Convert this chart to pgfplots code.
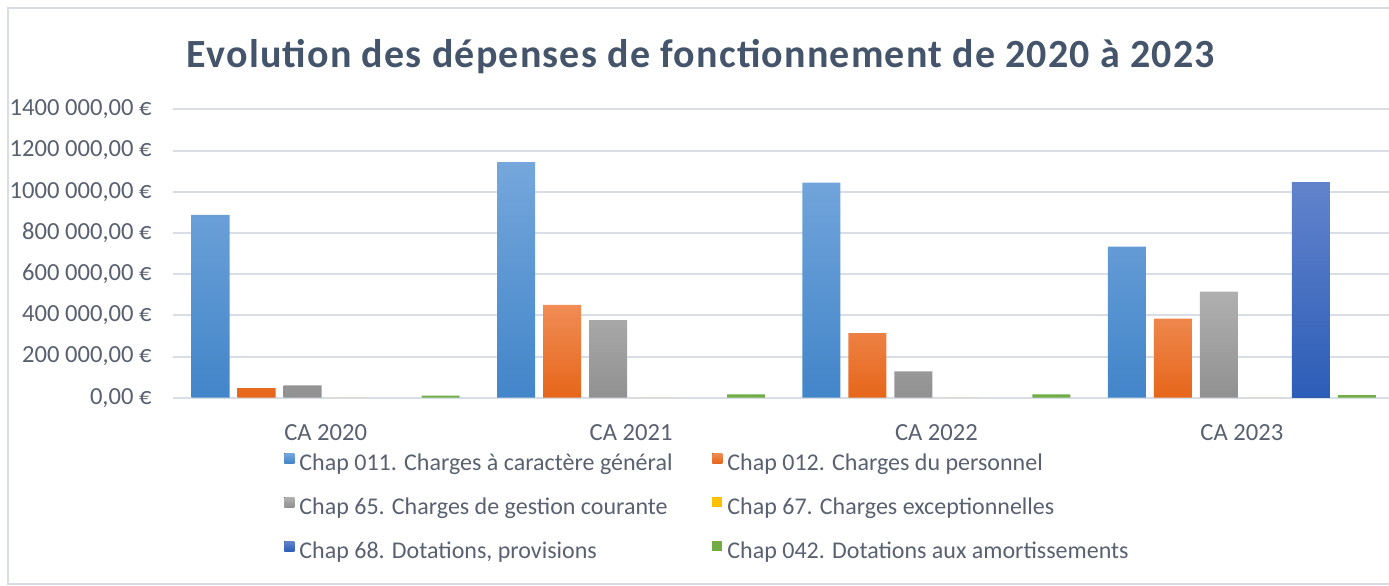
\documentclass[border=0pt]{standalone}
\usepackage{fontspec}
\setmainfont{Carlito}
\newfontfamily\titlefont[LetterSpace=3]{Carlito}
\usepackage{pgfplots}
\pgfplotsset{compat=1.18}
\definecolor{txt}{RGB}{89,96,112}
\definecolor{ttl}{RGB}{68,84,106}
\definecolor{gridc}{RGB}{217,222,230}
\definecolor{bluT}{RGB}{117,167,220}
\definecolor{bluB}{RGB}{66,133,201}
\definecolor{orT}{RGB}{240,140,85}
\definecolor{orB}{RGB}{230,102,26}
\definecolor{grT}{RGB}{176,176,176}
\definecolor{grB}{RGB}{145,145,145}
\definecolor{ylw}{RGB}{255,192,0}
\definecolor{dbT}{RGB}{98,131,204}
\definecolor{dbB}{RGB}{44,93,183}
\definecolor{grn}{RGB}{112,173,71}
\begin{document}
\begin{tikzpicture}
\useasboundingbox (0,0) rectangle (694.5pt,292.5pt);
\draw[gridc, line width=1pt] (4pt,0.5pt) rectangle (710pt,288.5pt);
\node[font=\titlefont\fontsize{20}{24}\selectfont\bfseries, text=ttl] at (350.5pt,264pt) {Evolution des dépenses de fonctionnement de 2020 à 2023};
\begin{axis}[
  at={(86.5pt,93.65pt)}, anchor=south west,
  scale only axis, width=610.75pt, height=144.2pt,
  xmin=-0.5, xmax=3.5, ymin=0, ymax=1400000,
  scaled y ticks=false,
  axis line style={draw=none}, major tick length=0pt, tick style={draw=none},
  ymajorgrids, major grid style={gridc, line width=1pt},
  ytick={0,200000,400000,600000,800000,1000000,1200000,1400000},
  yticklabels={{0,00 €},{200 000,00 €},{400 000,00 €},{600 000,00 €},{800 000,00 €},{1000 000,00 €},{1200 000,00 €},{1400 000,00 €}},
  xtick={0,1,2,3},
  xticklabels={CA 2020,CA 2021,CA 2022,CA 2023},
  yticklabel style={anchor=east, inner sep=0pt, xshift=-10.5pt, font=\fontsize{12.3}{14}\selectfont, text=txt},
  xticklabel style={anchor=north, inner sep=0pt, yshift=-13pt, font=\fontsize{12.3}{14}\selectfont, text=txt},
  ybar, bar width=19pt,
  legend columns=2,
  legend cell align=left,
  legend style={at={(0.0909,-0.1907)}, anchor=north west, draw=none, fill=none, inner sep=0pt,
    font=\fontsize{12}{14}\selectfont, text=txt,
    nodes={inner sep=0pt, text height=8.5pt, text depth=2.5pt},
    column sep=2.5pt, row sep=11pt,
    /tikz/every even column/.append style={column sep=20pt}},
  legend image code/.code={\fill[#1] (0pt,0.4pt) rectangle (5pt,5.4pt);},
]
\addplot[draw=none, top color=bluT, bottom color=bluB, bar shift=-57.5pt]
  coordinates {(0,887000) (1,1143000) (2,1044000) (3,733000)};
\addlegendentry{Chap 011. Charges à caractère général}
\addplot[draw=none, top color=orT, bottom color=orB, bar shift=-34.5pt]
  coordinates {(0,46000) (1,451000) (2,314000) (3,384000)};
\addlegendentry{Chap 012. Charges du personnel}
\addplot[draw=none, top color=grT, bottom color=grB, bar shift=-11.5pt]
  coordinates {(0,60000) (1,377000) (2,128000) (3,515000)};
\addlegendentry{Chap 65. Charges de gestion courante}
\addplot[draw=none, fill=ylw, bar shift=11.5pt]
  coordinates {(0,0) (1,0) (2,0) (3,0)};
\addlegendentry{Chap 67. Charges exceptionnelles}
% Chap 68 is 0 in 2020-2022 (nothing drawn there)
\addplot[draw=none, top color=dbT, bottom color=dbB, bar shift=34.5pt]
  coordinates {(3,1044000)};
\addlegendentry{Chap 68. Dotations, provisions}
\addplot[draw=none, fill=grn, bar shift=57.5pt]
  coordinates {(0,10000) (1,16000) (2,16000) (3,12000)};
\addlegendentry{Chap 042. Dotations aux amortissements}
\end{axis}
\end{tikzpicture}
\end{document}
